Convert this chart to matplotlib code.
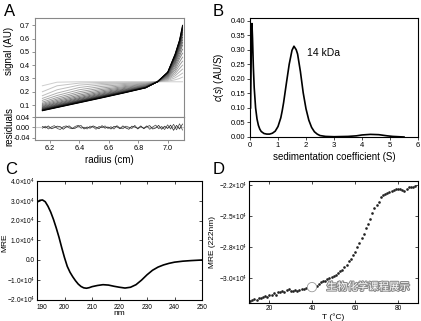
import numpy as np
import matplotlib
matplotlib.use('Agg')
import matplotlib.pyplot as plt
import matplotlib.patheffects as pe

plt.rcParams['font.family'] = ['Liberation Sans', 'DejaVu Sans']
plt.rcParams['mathtext.fontset'] = 'custom'
plt.rcParams['mathtext.rm'] = 'Liberation Sans'
plt.rcParams['mathtext.it'] = 'Liberation Sans:italic'

# ---- panel A: radial scans (signal vs radius), early (light) -> late (dark)
radius = [6.15, 6.25, 6.40, 6.55, 6.70, 6.85, 6.93, 7.00, 7.05, 7.08, 7.10]
scans = [
    [0.245, 0.272, 0.275, 0.275, 0.275, 0.275, 0.275, 0.275, 0.275, 0.275, 0.275],
    [0.200, 0.245, 0.265, 0.270, 0.272, 0.273, 0.275, 0.280, 0.290, 0.300, 0.310],
    [0.170, 0.215, 0.250, 0.262, 0.267, 0.270, 0.275, 0.285, 0.305, 0.325, 0.340],
    [0.150, 0.190, 0.232, 0.252, 0.262, 0.267, 0.275, 0.290, 0.320, 0.350, 0.370],
    [0.135, 0.172, 0.215, 0.240, 0.254, 0.264, 0.275, 0.295, 0.335, 0.375, 0.400],
    [0.122, 0.157, 0.200, 0.228, 0.246, 0.260, 0.275, 0.300, 0.350, 0.400, 0.430],
    [0.112, 0.145, 0.187, 0.217, 0.238, 0.256, 0.275, 0.305, 0.365, 0.425, 0.460],
    [0.104, 0.135, 0.175, 0.207, 0.231, 0.252, 0.275, 0.310, 0.380, 0.450, 0.490],
    [0.097, 0.126, 0.165, 0.198, 0.224, 0.248, 0.275, 0.315, 0.395, 0.470, 0.520],
    [0.091, 0.118, 0.156, 0.190, 0.218, 0.245, 0.275, 0.320, 0.410, 0.490, 0.550],
    [0.086, 0.112, 0.149, 0.183, 0.213, 0.242, 0.275, 0.325, 0.420, 0.510, 0.570],
    [0.081, 0.106, 0.143, 0.177, 0.209, 0.240, 0.275, 0.330, 0.430, 0.525, 0.590],
    [0.077, 0.101, 0.137, 0.172, 0.205, 0.238, 0.275, 0.335, 0.440, 0.540, 0.610],
    [0.073, 0.097, 0.133, 0.168, 0.202, 0.236, 0.275, 0.338, 0.450, 0.550, 0.630],
    [0.069, 0.093, 0.129, 0.165, 0.199, 0.234, 0.275, 0.341, 0.460, 0.560, 0.645],
    [0.066, 0.090, 0.126, 0.162, 0.197, 0.233, 0.275, 0.343, 0.465, 0.570, 0.660],
    [0.063, 0.087, 0.123, 0.159, 0.195, 0.232, 0.275, 0.345, 0.470, 0.575, 0.670],
    [0.061, 0.085, 0.121, 0.157, 0.193, 0.231, 0.275, 0.346, 0.475, 0.580, 0.680],
    [0.059, 0.083, 0.119, 0.155, 0.192, 0.230, 0.275, 0.347, 0.480, 0.585, 0.690],
    [0.057, 0.081, 0.117, 0.153, 0.190, 0.229, 0.275, 0.348, 0.485, 0.590, 0.700],
]
# residuals (x 1e-3)
res_a = [-3, 5, -6, 2, 7, -4, -8, 3, 6, -2, -5, 4, 8, -3, 1, -6, 5, 2, -7, 4, -1, 6, -4, 3,
         -6, 7, -2, -5, 5, 1, -4, 8, -6, 3, -3, 6, -7, 2, 9, -5, 4, -8, 10, -6, 12, -9, 14, -10]
res_b = [4, -2, 6, -5, -1, 5, 3, -7, 2, 6, -4, -3, 5, 7, -6, 2, -3, 6, 1, -5, 7, -3, 2, -6,
         4, 3, -5, 6, -2, -7, 5, 2, -4, 6, -5, 3, 7, -6, -2, 8, -7, 5, -4, 9, -11, 8, -6, 13]

# ---- panel B: c(s) distribution
sed_s = [0.02, 0.05, 0.07, 0.09, 0.12, 0.15, 0.20, 0.25, 0.30, 0.35, 0.40, 0.50, 0.60, 0.70,
         0.80, 0.90, 1.00, 1.10, 1.15, 1.20, 1.30, 1.40, 1.50, 1.57, 1.65, 1.70, 1.80, 1.90,
         2.00, 2.10, 2.20, 2.30, 2.40, 2.50, 2.70, 3.00, 3.50, 3.80, 4.00, 4.30, 4.60, 4.90,
         5.10, 5.30, 5.50]
sed_c = [0.10, 0.33, 0.39, 0.34, 0.24, 0.17, 0.10, 0.062, 0.040, 0.027, 0.019, 0.012, 0.010,
         0.010, 0.013, 0.020, 0.036, 0.066, 0.090, 0.118, 0.185, 0.250, 0.298, 0.312, 0.300,
         0.285, 0.225, 0.152, 0.097, 0.058, 0.033, 0.018, 0.010, 0.005, 0.002, 0.001, 0.002,
         0.004, 0.007, 0.009, 0.008, 0.004, 0.002, 0.001, 0.0]

# ---- panel C: CD spectrum
wl = [190, 191, 192, 193, 194, 195, 196, 197, 198, 199, 200, 201, 202, 203, 204, 205, 206,
      207, 208, 209, 210, 212, 214, 216, 218, 220, 222, 224, 226, 228, 230, 232, 234, 236,
      238, 240, 243, 246, 250]
mre = [2.92, 3.02, 3.04, 2.95, 2.72, 2.42, 2.05, 1.62, 1.15, 0.62, 0.12, -0.32, -0.62,
       -0.85, -1.05, -1.22, -1.34, -1.41, -1.43, -1.40, -1.35, -1.29, -1.25, -1.27, -1.33,
       -1.38, -1.42, -1.38, -1.25, -1.02, -0.75, -0.52, -0.36, -0.25, -0.17, -0.11, -0.06,
       -0.03, 0.0]

# ---- panel D: thermal melt at 222 nm
temp = list(range(11, 89))
mre222 = [-3.32, -3.31, -3.30, -3.31, -3.29, -3.29, -3.28, -3.27, -3.28, -3.26, -3.26, -3.25,
          -3.26, -3.24, -3.24, -3.23, -3.24, -3.22, -3.21, -3.23, -3.23, -3.22, -3.23, -3.22,
          -3.21, -3.21, -3.20, -3.19, -3.17, -3.16, -3.17, -3.18, -3.16, -3.14, -3.13, -3.13,
          -3.11, -3.10, -3.09, -3.08, -3.07, -3.05, -3.03, -3.02, -2.99, -2.97, -2.94, -2.92,
          -2.88, -2.85, -2.80, -2.76, -2.71, -2.67, -2.62, -2.58, -2.53, -2.47, -2.42, -2.39,
          -2.36, -2.32, -2.30, -2.29, -2.28, -2.27, -2.26, -2.25, -2.24, -2.24, -2.24, -2.25,
          -2.26, -2.24, -2.22, -2.22, -2.22, -2.21]
d_ticks = [-2.2, -2.5, -2.8, -3.1]
d_labels = [r'$-2.2{\times}10^4$', r'$-2.5{\times}10^4$', r'$-2.8{\times}10^4$', r'$-3.0{\times}10^4$']
c_labels = [r'$-2.0{\times}10^4$', r'$-1.0{\times}10^4$', '0.0', r'$1.0{\times}10^4$',
            r'$2.0{\times}10^4$', r'$3.0{\times}10^4$', r'$4.0{\times}10^4$']

W, H = 421, 321


def box(l, t, r, b):
    return [l / W, 1 - b / H, (r - l) / W, (b - t) / H]


fig = plt.figure(figsize=(W / 100, H / 100), dpi=100)
tick_fs = 5.5
lab_fs = 7

# A
axA = fig.add_axes(box(35, 18, 184, 117))
axR = fig.add_axes(box(35, 117, 184, 140), sharex=axA)
greys = plt.cm.Greys(np.linspace(0.3, 1.0, len(scans)))
for sc, col in zip(scans, greys):
    axA.plot(radius, sc, color=col, lw=0.7)
r_res = np.linspace(6.15, 7.10, len(res_a))
axR.axhline(0, color='#cccccc', lw=0.8)
axR.plot(r_res, np.array(res_a) / 1000, color='#444444', lw=0.5)
axR.plot(r_res, np.array(res_b) / 1000, color='#222222', lw=0.5)
axA.set_xlim(6.10, 7.11)
axA.set_ylim(0.01, 0.755)
axA.set_yticks([0.1, 0.2, 0.3, 0.4, 0.5, 0.6, 0.7])
axR.set_ylim(-0.048, 0.038)
axR.set_yticks([-0.04, 0.0, 0.04])
axR.set_yticklabels(['-0.04', '0.00', '0.04'])
axR.set_xticks([6.2, 6.4, 6.6, 6.8, 7.0])
axA.tick_params(axis='x', bottom=False, labelbottom=False)
for ax in (axA, axR):
    ax.tick_params(labelsize=5.2, length=2, width=0.5, color='#666666', pad=1.5)
    for s in ax.spines.values():
        s.set_color('#888888')
        s.set_linewidth(0.8)
axR.set_xlabel('radius (cm)', fontsize=lab_fs, labelpad=2)
fig.text(9 / W, 1 - 51 / H, 'signal (AU)', rotation=90, ha='center', va='center', fontsize=lab_fs)
fig.text(9 / W, 1 - 126 / H, 'residuals', rotation=90, ha='center', va='center', fontsize=lab_fs)

# B
axB = fig.add_axes(box(250, 18, 418, 137))
axB.plot(sed_s, sed_c, color='black', lw=1.2)
axB.set_xlim(0, 6)
axB.set_ylim(0, 0.409)
axB.set_yticks(np.arange(0, 0.41, 0.05))
axB.set_yticklabels(['%.2f' % v for v in np.arange(0, 0.41, 0.05)])
axB.set_xticks(range(0, 7))
axB.tick_params(labelsize=tick_fs, length=2, width=0.5, pad=1.5)
for s in axB.spines.values():
    s.set_linewidth(0.8)
axB.set_ylabel(r'$c(s)$ (AU/S)', fontsize=lab_fs, labelpad=3)
axB.set_xlabel('sedimentation coefficient (S)', fontsize=lab_fs, labelpad=2)
axB.text(2.05, 0.28, '14 kDa', fontsize=7.5)

# C
axC = fig.add_axes(box(37, 181, 202, 299.5))
axC.plot(wl, np.array(mre) * 1e4, color='black', lw=1.2)
axC.set_xlim(190, 250)
axC.set_ylim(-2e4, 4e4)
axC.set_xticks(range(190, 251, 10))
axC.set_yticks([-2e4, -1e4, 0, 1e4, 2e4, 3e4, 4e4])
axC.set_yticklabels(c_labels)
fig.text(5 / W, 1 - 243 / H, 'MRE', rotation=90, ha='center', va='center', fontsize=6)

# D
axD = fig.add_axes(box(249, 181, 418, 303))
axD.plot(temp, mre222, 'o', color='#222222', ms=1.9, mec='none')
axD.set_xlim(10.5, 89.3)
axD.set_ylim(-3.342, -2.161)
axD.set_xticks([20, 40, 60, 80])
axD.set_yticks(d_ticks)
axD.set_yticklabels(d_labels)
axD.set_xlabel('T (°C)', fontsize=6, labelpad=1)
axD.set_ylabel('MRE (222nm)', fontsize=6, labelpad=2)

for ax in (axC, axD):
    ax.tick_params(direction='in', top=True, right=True, labelsize=4.7, length=2.5, width=0.5, pad=1.5)
    for s in ax.spines.values():
        s.set_linewidth(0.8)
axC.tick_params(axis='x', pad=3)
axC.set_xlabel('nm', fontsize=6, labelpad=-0.5)
fig.canvas.draw()
axC.get_xticklabels()[0].set_horizontalalignment('left')

# panel letters
for x, y, t in [(4, 11, 'A'), (213, 11, 'B'), (5, 170, 'C'), (213, 170, 'D')]:
    fig.text(x / W, 1 - y / H, t, fontsize=12, ha='left', va='center')

# watermark
fig.text(368 / W, 1 - 287 / H, '生物化学课程展示', fontsize=7.5, color='white',
         family=['Noto Sans CJK SC', 'DejaVu Sans'], ha='center', va='center',
         path_effects=[pe.withStroke(linewidth=1.5, foreground='#8a8a8a')])
fig.text(312 / W, 1 - 287 / H, '●', fontsize=8, color='white', ha='center', va='center',
         family=['DejaVu Sans'], path_effects=[pe.withStroke(linewidth=1.2, foreground='#9a9a9a')])

fig.savefig('out.png', dpi=100)
